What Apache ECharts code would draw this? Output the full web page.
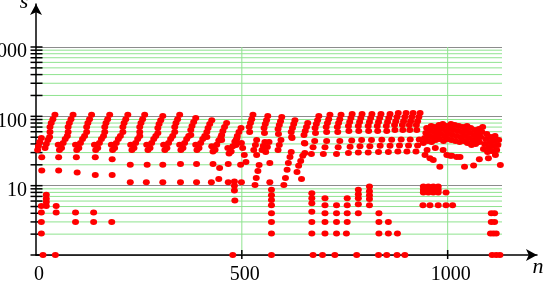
<!DOCTYPE html>
<html><head><meta charset="utf-8">
<script src="https://cdn.jsdelivr.net/npm/echarts@6/dist/echarts.min.js"></script>
<style>html,body{margin:0;padding:0;background:#fff}#c{width:545px;height:282px}</style>
</head><body><div id="c"></div>
<script>
const xTicks = [0, 500, 1000];
const yMajor = [1, 10, 100, 1000];
const yMinor = [2,3,4,5,6,7,8,9,20,30,40,50,60,70,80,90,200,300,400,500,600,700,800,900];

// top row "!" marks, n < 500
const topRow1 = [
 [34,70],[37,80],[41,91],[46,105],[34,59.5],
 [78,70],[81,80],[85,91],[90,105],[78,59.5],
 [123,70],[126,80],[130,91],[135,105],[123,59.5],
 [167,70],[170,80],[174,91],[179,105],[167,59.5],
 [211,70],[214,80],[218,91],[223,105],[211,59.5],
 [252,70],[255,80],[259,91],[264,105],[252,59.5],
 [296,68],[299,77.5],[303,88],[308,101],[296,57.5],
 [337,70],[340,80],[344,91],[349,105],[337,59.5],
 [376,63.5],[379,72.5],[383,82.6],[388,94.5],[376,54],
 [415,59.5],[418,68],[422,77.5],[427,88],[415,50.5],
 [451,54],[454,61.5],[458,70],[463,80],[451,45.7],
 [486,45.7],[489,52],[493,59.5],[498,68],[486,38.7]
];
// second row check marks, n < 500
const midRow1 = [
 [4,32.8],[6,37.4],[9,42.8],[13,48.8],
 [22,35],[25,40],[29,45.7],[33,50.5],
 [54,39],[57,32.8],[62,35],[66,41.3],[71,47.2],[76,52],
 [96,39],[99,32.8],[104,35],[108,41.3],[113,47.2],[118,52],
 [142,39],[145,32.8],[150,35],[154,41.3],[159,47.2],[164,52],
 [183,39],[186,32.8],[191,35],[195,41.3],[200,47.2],[205,52],
 [230,39],[233,32.8],[238,35],[242,41.3],[247,47.2],[252,52],
 [269,39],[272,32.8],[277,35],[281,41.3],[286,47.2],[291,52],
 [310,39],[313,32.8],[318,35],[322,41.3],[327,47.2],[332,52],
 [349,39],[352,32.8],[357,35],[361,41.3],[366,47.2],[371,52],
 [388,39],[391,32.8],[396,35],[400,41.3],[405,47.2],[410,52],
 [427,37],[430,31],[435,33],[439,39],[444,45],[449,50],
 [466,35],[469,29],[474,31],[478,37],[483,43],[488,48]
];
// isolated dot rows (s ~ 11 - 26)
const dotRows = [
 [14,25.7],[55,25.7],[98,25.7],[144,25.7],[185,24],[229,20],[270,20],[308,20],
 [351,20.5],[390,20.5],[430,20.5],[467,20.5],[446,18],[497,20],
 [14,16.6],[55,16.6],[100,15.5],[144,14.3],[185,14.3],[229,11.2],[268,11.2],[308,11.2],
 [351,11.2],[390,11.2],[426,11.2],[467,11.2],[444,12.5],[499,11.2]
];
// small values, n < 500
const lowLeft = [
 [13,5.1],[13,4.1],[13,3],[13,2.05],[25,7.4],[25,6.5],[25,5.8],[25,5.1],
 [49,5.1],[49,4.1],[96,4.1],[96,3],[140,4.1],[140,3],[184,3],[17,1],[47,1],
 [482,11.5],[482,10],[482,8.5],[483,6.1],[478,1]
];
// top row "!" marks, 500 - 940
const topRow2 = [
 [518,70],[521,80],[524,91],[527,105],[519,59.5],
 [554,68],[557,77.5],[560,88],[563,101],[555,57.5],
 [588,65.6],[591,75],[594,85],[597,98],[589,55.7],
 [620,59.5],[623,68],[626,77.5],[629,88],[621,50.5],
 [651,54],[654,61.5],[657,70],[660,80],[652,41.3],
 [678,68],[681,77.5],[684,88],[687,101],[679,57.5],
 [705,70],[708,80],[711,91],[714,105],[706,59.5],
 [732,70],[735,80],[738,91],[741,105],[733,59.5],
 [759,72.5],[762,82.6],[765,94.5],[768,108],[760,61.5],
 [783,72.5],[786,82.6],[789,94.5],[792,108],[784,61.5],
 [807,72.5],[810,82.6],[813,94.5],[816,108],[808,61.5],
 [829,72.5],[832,82.6],[835,94.5],[838,108],[830,61.5],
 [851,72.5],[854,82.6],[857,94.5],[860,108],[852,61.5],
 [871,75],[874,85],[877,98],[880,112],[872,63.5],
 [890,75],[893,85],[896,98],[899,112],[891,63.5],
 [907,75],[910,85],[913,98],[916,112],[908,63.5],
 [924,75],[927,85],[930,98],[933,112],[925,63.5]
];
// second row, 660 - 940
const midRow2 = [
 [669,28.7],[673,35.7],[677,44.2],[698,28.7],[702,35.7],[706,44.2],
 [730,28.7],[734,35.7],[738,44.2],[759,29.5],[763,36.5],[767,45],
 [783,30],[787,37],[791,45.5],[807,30],[811,37],[815,45.5],
 [832,30.5],[836,37.5],[840,46],[856,30.5],[860,37.5],[864,46],
 [879,31],[883,38],[887,46.5],[901,31],[905,38],[909,46.5],
 [923,31],[927,38],[931,46.5]
];
// dip region 500 - 660
const dipRegion = [
 [499,41.3],[502,35],[506,27.7],[510,22],
 [529,32.8],[533,38.7],[536,45.7],[536,27.7],
 [532,10.2],[535,12.9],[539,16.3],[542,19.9],
 [549,32.8],[552,37.4],[556,42.8],[558,30.7],[562,36.2],[566,42.8],
 [568,21.2],[568,11.2],[588,32.8],[591,38.7],[595,45.7],
 [602,10.2],[606,12.9],[610,16.9],[613,21.2],[617,25.9],[620,30.7],[622,48.8],
 [634,15.8],[638,19.3],[643,22.7],[648,26.9],[653,29.6],[645,12.5],[653,40.6]
];
// small values, 500 - 940
const lowMid = [
 [572,8.7],[572,7.3],[572,6.2],[572,5.2],[572,4.0],[572,3.0],[572,2.05],[572,1],
 [670,7.8],[670,6.6],[670,5.6],[670,4.2],[670,3],[670,2.05],[673,1],
 [702,6.6],[702,5.2],[702,4.0],[702,3.0],[702,2.05],[696,1],
 [730,5.2],[730,4.0],[730,3.0],[730,2.05],[726,1],
 [756,6.6],[756,5.2],[756,4.0],[756,3.0],[754,2.05],
 [783,8.7],[783,7.5],[783,6.6],[783,5.4],[783,4.0],[779,1],
 [810,9.7],[810,8.3],[810,7.3],[810,6.4],[810,5.2],
 [833,4.0],[833,3.0],[833,2.05],[832,1],
 [856,3.0],[856,2.05],[852,1],[878,2.05],[877,1],[896,1]
];
// dense band n > 940
const tailBand = [
 [941,41.3],[944,48.8],[947,57.5],[949,68],[952,44.2],[955,52],[958,61.5],[960,72.5],
 [961,42.8],[964,50.5],[967,59.5],[969,70],[971,45.7],[974,54],[977,63.5],[979,75],
 [980,47.2],[983,55.7],[986,65.6],[988,77.5],[990,44.2],[993,52],[996,61.5],[998,72.5],
 [1000,47.2],[1003,55.7],[1006,65.6],[1008,77.5],[1009,45.7],[1012,54],[1015,63.5],[1017,75],
 [1019,44.2],[1022,52],[1025,61.5],[1027,72.5],[1029,42.8],[1032,50.5],[1035,59.5],[1037,70],
 [1039,44.2],[1042,52],[1045,61.5],[1047,72.5],[1048,41.3],[1051,48.8],[1054,57.5],[1056,68],
 [1058,38.7],[1061,45.7],[1064,54],[1066,63.5],[1068,40],[1071,47.2],[1074,55.7],[1076,65.6],
 [1077,42.8],[1080,50.5],[1083,59.5],[1085,70],[1087,33.9],[1090,40],[1093,47.2],[1095,55.7],
 [1097,30.7],[1100,36.2],[1103,42.8],[1105,50.5],[1107,31.7],[1110,37.4],[1113,44.2],[1115,52],
 [1116,27.7],[1119,32.8],[1122,38.7],[1124,45.7],[950,32.8],[970,35],[989,32.8]
];
const tailDots = [
 [945,27.7],[957,24.8],[965,23.5],[981,18.8],[998,27.7],[1006,27],[1010,26.9],[1022,26],
 [1030,26],[1041,18.8],[1063,19.5],[1077,24],[1099,24.8],[1128,19.9],
 [941,9.7],[941,8.7],[941,8.0],[953,9.7],[953,8.7],[953,8.0],[965,9.7],[965,8.7],[965,8.0],
 [977,9.7],[977,8.7],[977,8.0],[996,8.0],[940,5.2],[957,5.2],[977,5.2],[996,5.2],[1012,5.2],
 [1106,4],[1114,4],[1106,3],[1114,3],[1104,2.05],[1111,2.05],[1118,2.05],[1108,1],[1118,1],[1127,1]
];

const X_MAX = 1132;
const SERIF = "'Liberation Serif','Times New Roman',serif";
const GREEN = '#8fe38f';

const allPoints = [].concat(topRow1, midRow1, dotRows, lowLeft, topRow2, midRow2, dipRegion, lowMid, tailBand, tailDots);

const chart = echarts.init(document.getElementById('c'));

function yLines(params, api) {
  const v = api.value(1);
  const major = api.value(2) === 1;
  const a = api.coord([0, v]);
  const b = api.coord([X_MAX, v]);
  const children = [];
  if (!major) children.push({type:'line', shape:{x1:a[0], y1:a[1], x2:b[0], y2:b[1]}, style:{stroke:GREEN, lineWidth:1}});
  children.push({type:'line', shape:{x1:a[0]-5.5, y1:a[1], x2:a[0]+6.5, y2:a[1]}, style:{stroke:'#000', lineWidth:1.5}});
  return {type:'group', children};
}
function xLines(params, api) {
  const v = api.value(0);
  const a = api.coord([v, 1]);
  const b = api.coord([v, 1000]);
  return {type:'group', children:[
    {type:'line', shape:{x1:a[0], y1:a[1], x2:b[0], y2:b[1]}, style:{stroke:GREEN, lineWidth:1}},
    {type:'line', shape:{x1:a[0], y1:a[1]-5, x2:a[0], y2:a[1]+4}, style:{stroke:'#000', lineWidth:1.5}}
  ]};
}

const arrowLine = {show:true, lineStyle:{color:'#000', width:1.5}, symbol:['none','arrow'], symbolSize:[9,11]};

chart.setOption({
  animation: false,
  backgroundColor: '#fff',
  grid: [
    {left: 36, right: 43, top: 47, bottom: 27, containLabel:false, outerBoundsMode:'none'},
    {left: 36, right: 8, top: 4, bottom: 27, containLabel:false, outerBoundsMode:'none'}
  ],
  xAxis: [
    {type:'value', gridIndex:0, min:0, max:X_MAX, interval:500,
     axisLine:{show:false}, axisTick:{show:false}, splitLine:{show:false},
     axisLabel:{formatter: v => xTicks.includes(v) ? String(v) : '', fontFamily:SERIF, fontSize:20, color:'#000', margin:9.5, lineHeight:20, padding:[0,0,0,6]}},
    {type:'value', gridIndex:1, min:0, max:1, axisLine:arrowLine, axisTick:{show:false}, axisLabel:{show:false}, splitLine:{show:false}}
  ],
  yAxis: [
    {type:'log', logBase:10, gridIndex:0, min:1, max:1000,
     axisLine:{show:false}, axisTick:{show:false},
     splitLine:{show:true, lineStyle:{color:'#8c8c8c', width:1}},
     axisLabel:{formatter: v => Math.round(v) === 1 ? '' : String(Math.round(v)), fontFamily:SERIF, fontSize:20, color:'#000', margin:9, verticalAlign:'top', lineHeight:10}},
    {type:'value', gridIndex:1, min:0, max:1, axisLine:arrowLine, axisTick:{show:false}, axisLabel:{show:false}, splitLine:{show:false}}
  ],
  graphic: [
    {type:'text', x:24, y:2.6, z:10, style:{text:'s', font:"italic 22px 'Liberation Serif'", fill:'#000', align:'center', verticalAlign:'middle'}},
    {type:'text', x:538, y:267.6, z:10, style:{text:'n', font:"italic 22px 'Liberation Serif'", fill:'#000', align:'center', verticalAlign:'middle'}}
  ],
  series: [
    {type:'custom', xAxisIndex:0, yAxisIndex:0, z:1, silent:true, renderItem:yLines,
     data: yMinor.map(v => [0, v, 0]).concat(yMajor.map(v => [0, v, 1]))},
    {type:'custom', xAxisIndex:0, yAxisIndex:0, z:1, silent:true, renderItem:xLines,
     data: xTicks.filter(v => v > 0).map(v => [v, 1])},
    {type:'scatter', xAxisIndex:0, yAxisIndex:0, z:5, clip:false, silent:true,
     symbol:'circle', symbolSize:[7,6], itemStyle:{color:'#ff0000', opacity:1}, data: allPoints}
  ]
});
</script></body></html>
